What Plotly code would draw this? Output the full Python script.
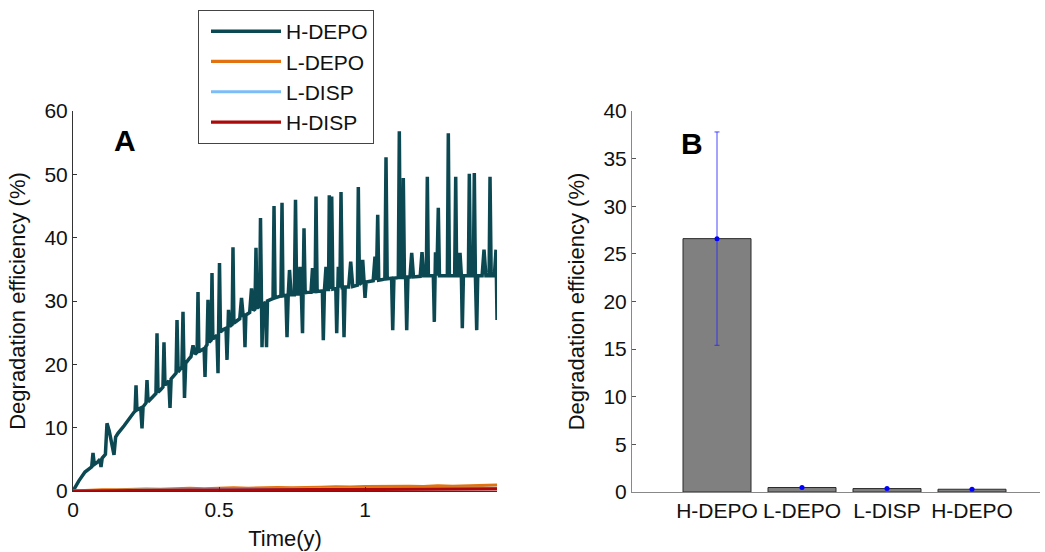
import plotly.graph_objects as go

# ---------------- Panel A data (time in years, efficiency in %) ----------------
t_hdepo = [
    0.0, 0.02, 0.041, 0.060, 0.064, 0.0685, 0.073, 0.085, 0.092, 0.0959,
    0.100, 0.111, 0.1164, 0.124, 0.1404, 0.146, 0.154, 0.175, 0.195, 0.210,
    0.2125, 0.2158, 0.219, 0.232, 0.2363, 0.240, 0.250, 0.2534, 0.257, 0.270,
    0.284, 0.2877, 0.291, 0.300, 0.308, 0.3116, 0.315, 0.328, 0.3322, 0.336,
    0.345, 0.353, 0.3562, 0.360, 0.373, 0.3767, 0.3818, 0.386, 0.400, 0.404,
    0.411, 0.418, 0.425, 0.4281, 0.431, 0.445, 0.449, 0.4521, 0.455, 0.459,
    0.4623, 0.466, 0.473, 0.4760, 0.479, 0.493, 0.4966, 0.5017, 0.505, 0.515,
    0.524, 0.5274, 0.5325, 0.537, 0.545, 0.5479, 0.551, 0.565, 0.571, 0.5771,
    0.583, 0.586, 0.5890, 0.592, 0.600, 0.605, 0.6113, 0.618, 0.623, 0.6267,
    0.630, 0.639, 0.6421, 0.6473, 0.651, 0.659, 0.6627, 0.666, 0.680, 0.685,
    0.6884, 0.692, 0.705, 0.712, 0.7158, 0.719, 0.729, 0.7329, 0.737, 0.7414,
    0.747, 0.758, 0.7620, 0.766, 0.772, 0.7774, 0.782, 0.7860, 0.7911, 0.795,
    0.810, 0.815, 0.8202, 0.826, 0.829, 0.8322, 0.836, 0.850, 0.854, 0.8572,
    0.861, 0.8664, 0.872, 0.875, 0.8777, 0.882, 0.8860, 0.890, 0.900, 0.9031,
    0.9086, 0.914, 0.9178, 0.922, 0.925, 0.9281, 0.932, 0.944, 0.9510, 0.958,
    0.974, 0.9771, 0.981, 0.986, 0.9921, 0.997, 1.0000, 1.004, 1.020, 1.028,
    1.0342, 1.039, 1.0435, 1.047, 1.060, 1.068, 1.0719, 1.076, 1.091, 1.0949,
    1.099, 1.114, 1.1175, 1.121, 1.128, 1.1312, 1.135, 1.139, 1.1428, 1.147,
    1.154, 1.1599, 1.166, 1.180, 1.189, 1.1952, 1.201, 1.210, 1.2134, 1.217,
    1.234, 1.2373, 1.2414, 1.246, 1.2510, 1.255, 1.270, 1.282, 1.2853, 1.289,
    1.300, 1.307, 1.3106, 1.314, 1.320, 1.3253, 1.330, 1.3332, 1.337, 1.354,
    1.3572, 1.361, 1.371, 1.3743, 1.378, 1.3825, 1.386, 1.401, 1.4075, 1.414,
    1.425, 1.4281, 1.432, 1.443, 1.4486, 1.4521]
y_hdepo = [
    0.0, 1.6, 3.0, 3.6, 3.8, 6.0, 4.2, 4.6, 5.0, 3.8,
    5.2, 5.8, 10.7, 9.5, 5.7, 8.5, 9.1, 10.3, 11.7, 12.5,
    12.6, 16.7, 12.8, 13.1, 9.9, 13.3, 13.9, 17.5, 14.1, 14.8,
    15.4, 24.9, 15.6, 16.0, 16.4, 23.5, 16.7, 17.4, 13.1, 17.7,
    18.2, 18.6, 27.0, 18.8, 19.6, 28.3, 14.7, 20.2, 21.0, 21.2,
    23.0, 21.6, 21.9, 31.4, 22.0, 22.4, 22.5, 18.0, 22.8, 23.1,
    30.2, 23.5, 23.8, 34.4, 24.0, 24.6, 18.6, 36.0, 25.1, 25.5,
    25.7, 20.7, 28.6, 26.0, 26.3, 38.5, 26.5, 27.0, 27.2, 30.5,
    27.5, 27.6, 22.7, 27.8, 28.0, 28.2, 32.0, 28.5, 28.7, 38.4,
    28.9, 29.2, 43.1, 22.7, 29.5, 29.8, 22.7, 30.0, 30.3, 30.4,
    45.0, 30.5, 30.7, 30.8, 45.5, 30.8, 30.9, 24.3, 30.9, 34.9,
    31.0, 31.0, 46.0, 31.1, 31.1, 35.4, 31.2, 24.9, 41.5, 31.3,
    31.4, 31.4, 35.2, 31.5, 31.5, 46.5, 31.5, 31.6, 31.6, 23.8,
    31.7, 35.4, 31.8, 31.8, 46.7, 31.9, 46.5, 31.9, 32.0, 24.9,
    35.4, 32.1, 47.2, 32.1, 32.1, 24.3, 32.2, 32.2, 36.2, 32.3,
    32.5, 48.0, 32.6, 32.8, 36.5, 32.9, 30.5, 33.0, 33.1, 33.2,
    37.0, 33.3, 43.6, 33.3, 33.4, 33.5, 52.7, 33.5, 33.6, 25.4,
    33.6, 33.7, 56.8, 33.7, 33.7, 49.4, 33.8, 33.8, 25.4, 33.8,
    33.8, 37.6, 33.8, 33.9, 33.9, 37.7, 34.0, 34.0, 49.6, 34.0,
    34.0, 26.7, 37.7, 34.0, 44.7, 34.0, 34.0, 34.0, 56.5, 34.0,
    34.0, 34.0, 49.6, 34.0, 34.0, 37.6, 34.0, 25.7, 34.0, 34.0,
    50.1, 34.0, 34.0, 50.2, 34.0, 25.4, 34.0, 34.0, 38.1, 34.0,
    34.0, 49.6, 34.0, 34.0, 38.1, 27.0]
assert len(t_hdepo) == len(y_hdepo)

t_small = [0.00, 0.05, 0.10, 0.15, 0.20, 0.25, 0.30, 0.35, 0.40, 0.45,
           0.50, 0.55, 0.60, 0.65, 0.70, 0.75, 0.80, 0.85, 0.90, 0.95,
           1.00, 1.05, 1.10, 1.15, 1.20, 1.25, 1.30, 1.35, 1.40, 1.452]
y_ldepo = [0.00, 0.12, 0.20, 0.18, 0.28, 0.30, 0.26, 0.36, 0.40, 0.35,
           0.45, 0.48, 0.42, 0.52, 0.55, 0.50, 0.60, 0.58, 0.65, 0.60,
           0.68, 0.72, 0.66, 0.75, 0.70, 0.80, 0.74, 0.82, 0.78, 0.95]
y_ldisp = [0.00, 0.05, 0.08, 0.10, 0.12, 0.15, 0.16, 0.18, 0.20, 0.21,
           0.22, 0.24, 0.25, 0.26, 0.27, 0.28, 0.29, 0.30, 0.31, 0.32,
           0.32, 0.33, 0.34, 0.35, 0.35, 0.36, 0.37, 0.37, 0.38, 0.40]
y_hdisp = [0.00, 0.03, 0.05, 0.07, 0.08, 0.10, 0.11, 0.12, 0.13, 0.14,
           0.15, 0.16, 0.17, 0.18, 0.19, 0.20, 0.21, 0.22, 0.23, 0.24,
           0.25, 0.26, 0.27, 0.28, 0.28, 0.29, 0.30, 0.31, 0.32, 0.33]

series_names = ["H-DEPO", "L-DEPO", "L-DISP", "H-DISP"]
series_colors = ["#0b4852", "#e2710f", "#7dbdf7", "#ac0a0a"]

# ---------------- Panel B data ----------------
bar_pos = [1, 2, 3, 4]
bar_labels = ["H-DEPO", "L-DEPO", "L-DISP", "H-DEPO"]
bar_means = [26.6, 0.47, 0.36, 0.29]
bar_err = [11.2, 0.03, 0.03, 0.03]

FONT = "Liberation Sans, Arial, sans-serif"

fig = go.Figure()

xs = [t_hdepo, t_small, t_small, t_small]
ys = [y_hdepo, y_ldepo, y_ldisp, y_hdisp]
for i, (name, col) in enumerate(zip(series_names, series_colors)):
    fig.add_trace(go.Scatter(
        x=xs[i], y=ys[i], mode="lines", name=name,
        line=dict(color=col, width=3.5 if i == 0 else 3.2),
        legendgroup=f"g{i}", xaxis="x", yaxis="y"))

fig.add_trace(go.Bar(
    x=bar_pos, y=bar_means, width=0.8, showlegend=False,
    marker=dict(color="#808080", line=dict(color="#2a2a2a", width=1)),
    xaxis="x2", yaxis="y2"))
fig.add_trace(go.Scatter(
    x=bar_pos, y=bar_means, mode="markers", showlegend=False,
    marker=dict(color="#0000ff", size=5),
    error_y=dict(type="data", array=bar_err, color="rgba(40,40,255,0.85)",
                 thickness=1, width=2.5),
    xaxis="x2", yaxis="y2"))

axis_font = dict(family=FONT, size=21, color="#111")
title_font = dict(family=FONT, size=22, color="#111")

fig.update_layout(
    template="none",
    width=1045, height=552,
    margin=dict(l=0, r=0, t=0, b=0, autoexpand=False),
    paper_bgcolor="white", plot_bgcolor="white",
    font=dict(family=FONT, size=21, color="#111"),
    xaxis=dict(domain=[73/1045, 497/1045], range=[0, 1.452], automargin=False,
               tickvals=[0, 0.5, 1], ticktext=["0", "0.5", "1"],
               showgrid=False, zeroline=False, showline=True,
               linecolor="#333", linewidth=1, ticks="inside", ticklen=4,
               tickcolor="#333", tickfont=axis_font,
               title=dict(text="Time(y)", font=title_font, standoff=10)),
    yaxis=dict(domain=[1 - 491/552, 1 - 111/552], range=[0, 60], automargin=False,
               tickvals=[0, 10, 20, 30, 40, 50, 60],
               showgrid=False, zeroline=False, showline=True,
               linecolor="#333", linewidth=1, ticks="inside", ticklen=4,
               tickcolor="#333", tickfont=axis_font,
               title=dict(text="Degradation efficiency (%)", font=title_font,
                          standoff=12)),
    xaxis2=dict(domain=[632/1045, 1040/1045], range=[0, 4.8], automargin=False,
                tickvals=bar_pos, ticktext=bar_labels,
                showgrid=False, zeroline=False, showline=True,
                linecolor="#888", linewidth=1, ticks="", tickfont=axis_font,
                anchor="y2"),
    yaxis2=dict(domain=[1 - 492/552, 1 - 111/552], range=[0, 40], automargin=False,
                tickvals=[0, 5, 10, 15, 20, 25, 30, 35, 40],
                showgrid=False, zeroline=False, showline=True,
                linecolor="#888", linewidth=1, ticks="inside", ticklen=4,
                tickcolor="#555", tickfont=axis_font, anchor="x2",
                title=dict(text="Degradation efficiency (%)", font=title_font,
                           standoff=12)),
    legend=dict(x=198/1045, y=1 - 10/552, xanchor="left", yanchor="top",
                bordercolor="#444", borderwidth=1, bgcolor="white",
                font=dict(family=FONT, size=21, color="#111"),
                itemwidth=70, tracegroupgap=0, indentation=7),
    bargap=0.2,
    annotations=[
        dict(text="<b>A</b>", x=0.178, y=55.3, xref="x", yref="y",
             showarrow=False, font=dict(family=FONT, size=30, color="black")),
        dict(text="<b>B</b>", x=0.71, y=36.6, xref="x2", yref="y2",
             showarrow=False, font=dict(family=FONT, size=30, color="black")),
    ],
)

fig.write_html("out.html")
